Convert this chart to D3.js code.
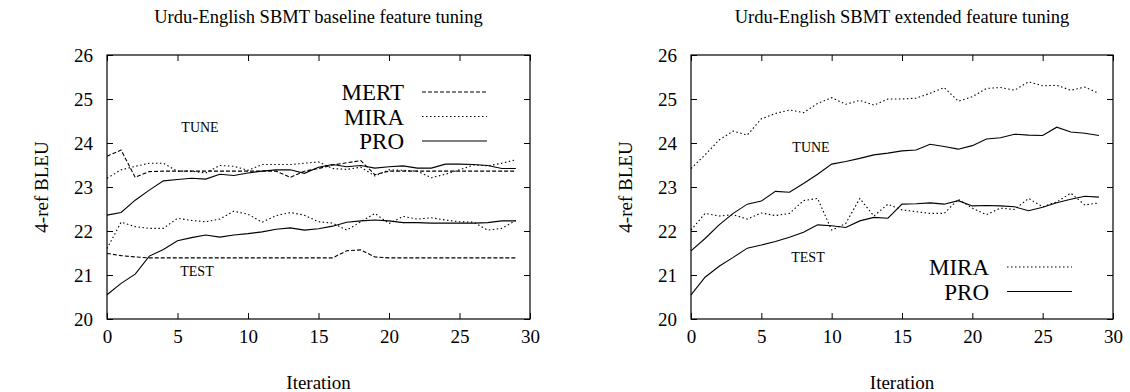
<!DOCTYPE html>
<html>
<head>
<meta charset="utf-8">
<script src="https://cdn.jsdelivr.net/npm/d3@7"></script>
<style>
  body { margin: 0; background: #fff; }
  svg text { font-family: "Liberation Serif", "Times New Roman", serif; fill: #000; }
</style>
</head>
<body>
<div id="chart"></div>
<script>
// iterations 0..29
const iterations = d3.range(0, 30);
const xTicks = [0, 5, 10, 15, 20, 25, 30];
const yTicks = [20, 21, 22, 23, 24, 25, 26];

// baseline panel
const baseMertTune = [23.70, 23.84, 23.22, 23.35, 23.36, 23.36, 23.36, 23.36, 23.36, 23.36,
  23.36, 23.36, 23.36, 23.22, 23.36, 23.42, 23.5, 23.55, 23.6, 23.28,
  23.36, 23.36, 23.36, 23.36, 23.36, 23.36, 23.36, 23.36, 23.36, 23.36];
const baseMiraTune = [23.20, 23.39, 23.47, 23.54, 23.54, 23.36, 23.36, 23.32, 23.49, 23.47,
  23.38, 23.51, 23.51, 23.51, 23.54, 23.57, 23.42, 23.4, 23.45, 23.25,
  23.39, 23.38, 23.36, 23.21, 23.29, 23.39, 23.5, 23.48, 23.54, 23.62];
const baseProTune = [22.36, 22.42, 22.7, 22.93, 23.14, 23.17, 23.2, 23.18, 23.29, 23.26,
  23.32, 23.36, 23.39, 23.39, 23.31, 23.45, 23.51, 23.46, 23.49, 23.43,
  23.46, 23.48, 23.43, 23.43, 23.52, 23.52, 23.51, 23.49, 23.42, 23.42];
const baseMertTest = [21.49, 21.44, 21.41, 21.39, 21.39, 21.39, 21.39, 21.39, 21.39, 21.39,
  21.39, 21.39, 21.39, 21.39, 21.39, 21.39, 21.39, 21.55, 21.57, 21.41,
  21.39, 21.39, 21.39, 21.39, 21.39, 21.39, 21.39, 21.39, 21.39, 21.39];
const baseMiraTest = [21.6, 22.2, 22.1, 22.06, 22.06, 22.29, 22.24, 22.21, 22.27, 22.45,
  22.38, 22.2, 22.35, 22.42, 22.36, 22.21, 22.18, 22.02, 22.21, 22.4,
  22.17, 22.33, 22.27, 22.3, 22.25, 22.21, 22.2, 22.02, 22.06, 22.24];
const baseProTest = [20.55, 20.81, 21.02, 21.43, 21.58, 21.78, 21.85, 21.91, 21.86, 21.91,
  21.94, 21.98, 22.04, 22.07, 22.02, 22.05, 22.11, 22.2, 22.23, 22.25,
  22.23, 22.19, 22.19, 22.18, 22.18, 22.18, 22.18, 22.19, 22.23, 22.23];

// extended panel
const extMiraTune = [23.42, 23.73, 24.07, 24.27, 24.18, 24.55, 24.67, 24.75, 24.69, 24.9,
  25.03, 24.88, 24.97, 24.86, 25.0, 25.0, 25.02, 25.13, 25.26, 24.95,
  25.05, 25.24, 25.26, 25.2, 25.39, 25.3, 25.31, 25.2, 25.27, 25.13];
const extProTune = [21.55, 21.83, 22.14, 22.4, 22.61, 22.68, 22.9, 22.88, 23.08, 23.29,
  23.52, 23.58, 23.65, 23.73, 23.77, 23.82, 23.84, 23.97, 23.92, 23.86,
  23.94, 24.09, 24.12, 24.2, 24.18, 24.17, 24.36, 24.25, 24.22, 24.17];
const extMiraTest = [22.02, 22.4, 22.34, 22.37, 22.27, 22.41, 22.35, 22.4, 22.69, 22.74,
  22.02, 22.17, 22.74, 22.34, 22.61, 22.48, 22.44, 22.4, 22.4, 22.72,
  22.52, 22.37, 22.52, 22.49, 22.74, 22.55, 22.66, 22.86, 22.59, 22.64];
const extProTest = [20.55, 20.95, 21.2, 21.4, 21.61, 21.68, 21.76, 21.86, 21.97, 22.14,
  22.12, 22.08, 22.23, 22.31, 22.29, 22.61, 22.62, 22.64, 22.61, 22.69,
  22.57, 22.58, 22.57, 22.55, 22.46, 22.54, 22.64, 22.72, 22.79, 22.77];

const W = 1130, H = 392;
const FONT = "Liberation Serif, Times New Roman, serif";
const dashes = { MERT: "4,2", MIRA: "1.5,2.5", PRO: null };

const svg = d3.select("#chart").append("svg")
  .attr("width", W).attr("height", H)
  .attr("font-family", FONT);

function drawPanel(left, right, title, series, legend, annots) {
  const top = 55, bottom = 319;
  const x = d3.scaleLinear().domain([0, 30]).range([left, right]);
  const y = d3.scaleLinear().domain([20, 26]).range([bottom, top]);
  const g = svg.append("g");

  // ticks inside on all four sides
  g.append("g").attr("transform", "translate(0," + bottom + ")")
    .call(d3.axisBottom(x).tickValues(xTicks).tickSize(-6).tickPadding(11).tickFormat(d3.format("d")))
    .attr("font-family", FONT).attr("font-size", 19)
    .call(a => a.select(".domain").remove());
  g.append("g").attr("transform", "translate(0," + top + ")")
    .call(d3.axisTop(x).tickValues(xTicks).tickSize(-6).tickFormat(""))
    .call(a => a.select(".domain").remove());
  g.append("g").attr("transform", "translate(" + left + ",0)")
    .call(d3.axisLeft(y).tickValues(yTicks).tickSize(-6).tickPadding(14).tickFormat(d3.format("d")))
    .attr("font-family", FONT).attr("font-size", 19)
    .call(a => a.select(".domain").remove());
  g.append("g").attr("transform", "translate(" + right + ",0)")
    .call(d3.axisRight(y).tickValues(yTicks).tickSize(-6).tickFormat(""))
    .call(a => a.select(".domain").remove());
  g.selectAll(".tick line").attr("stroke", "#000");

  g.append("rect")
    .attr("x", left).attr("y", top)
    .attr("width", right - left).attr("height", bottom - top)
    .attr("fill", "none").attr("stroke", "#000").attr("stroke-width", 1.2);

  const line = d3.line().x((d, i) => x(iterations[i])).y(d => y(d));
  series.forEach(s => {
    g.append("path").datum(s.values)
      .attr("d", line)
      .attr("fill", "none")
      .attr("stroke", "#000")
      .attr("stroke-width", 1.1)
      .attr("stroke-dasharray", dashes[s.name]);
  });

  // legend
  legend.names.forEach((n, k) => {
    const ly = legend.y + k * 24.5;
    g.append("text").text(n)
      .attr("x", legend.x).attr("y", ly)
      .attr("dy", "0.35em")
      .attr("text-anchor", "end")
      .attr("font-size", 23);
    g.append("line")
      .attr("x1", legend.x + 18).attr("x2", legend.x + 83)
      .attr("y1", ly).attr("y2", ly)
      .attr("stroke", "#000").attr("stroke-width", 1.1)
      .attr("stroke-dasharray", dashes[n]);
  });

  annots.forEach(a => {
    g.append("text").text(a.t)
      .attr("x", a.x).attr("y", a.y)
      .attr("dy", "0.35em")
      .attr("text-anchor", "middle")
      .attr("font-size", 14);
  });

  g.append("text").text(title)
    .attr("x", (left + right) / 2).attr("y", 23)
    .attr("text-anchor", "middle")
    .attr("font-size", 18.5);
  g.append("text").text("Iteration")
    .attr("x", (left + right) / 2).attr("y", 389)
    .attr("text-anchor", "middle")
    .attr("font-size", 19);
  g.append("text").text("4-ref BLEU")
    .attr("transform", "translate(" + (left - 59) + "," + ((top + bottom) / 2) + ") rotate(-90)")
    .attr("text-anchor", "middle")
    .attr("font-size", 19);
}

drawPanel(107, 530, "Urdu-English SBMT baseline feature tuning",
  [
    { name: "MERT", values: baseMertTune },
    { name: "MIRA", values: baseMiraTune },
    { name: "PRO", values: baseProTune },
    { name: "MERT", values: baseMertTest },
    { name: "MIRA", values: baseMiraTest },
    { name: "PRO", values: baseProTest }
  ],
  { x: 404, y: 92, names: ["MERT", "MIRA", "PRO"] },
  [{ t: "TUNE", x: 200, y: 127 }, { t: "TEST", x: 197, y: 271 }]);

drawPanel(691, 1113, "Urdu-English SBMT extended feature tuning",
  [
    { name: "MIRA", values: extMiraTune },
    { name: "PRO", values: extProTune },
    { name: "MIRA", values: extMiraTest },
    { name: "PRO", values: extProTest }
  ],
  { x: 989, y: 267, names: ["MIRA", "PRO"] },
  [{ t: "TUNE", x: 811, y: 147 }, { t: "TEST", x: 808, y: 257 }]);
</script>
</body>
</html>
